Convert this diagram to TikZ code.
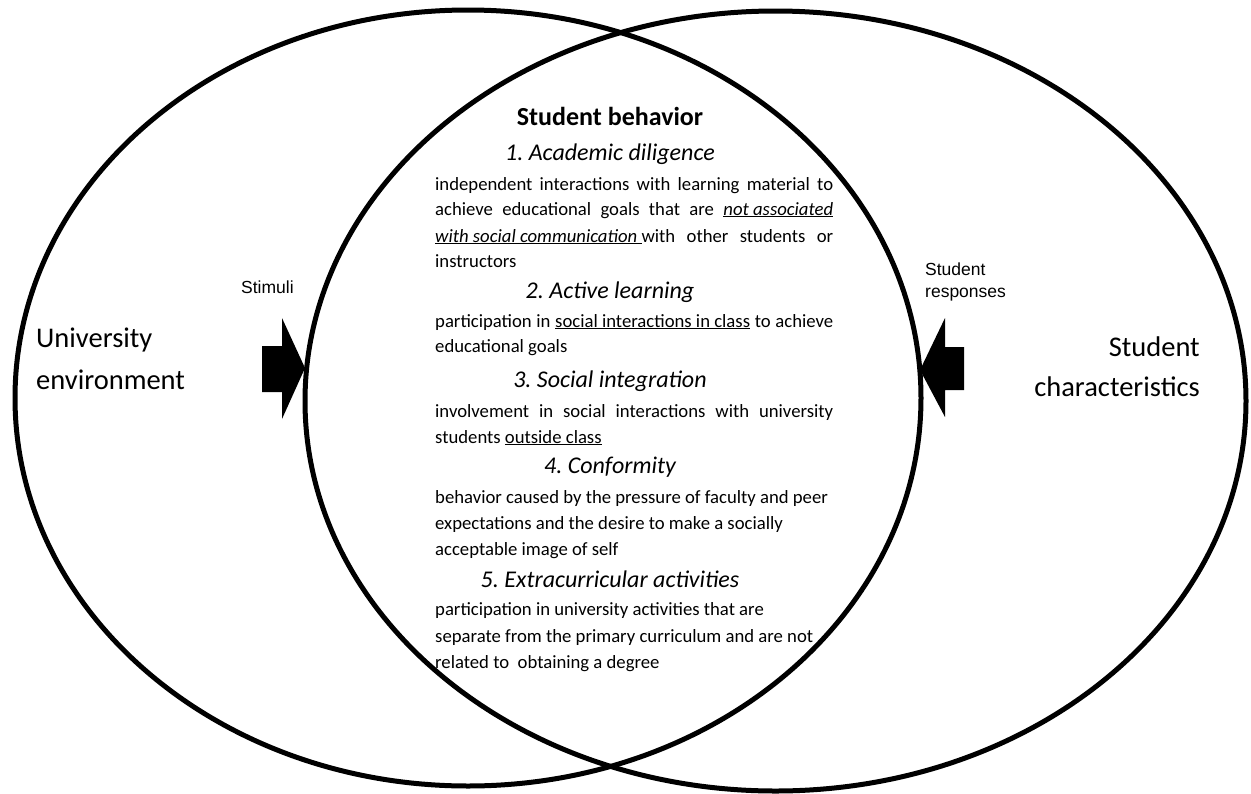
\documentclass[tikz,border=0pt]{standalone}
\usepackage{fontspec}
\setmainfont{Carlito}
\newfontfamily\arialfont{Liberation Sans}
\newcommand\jline[1]{\makebox[398pt][s]{#1}}
\frenchspacing
\begin{document}
\begin{tikzpicture}[x=1pt,y=-1pt,
  ring/.style={line width=5pt},
  blockarrow/.style={fill=black, draw=none},
  body/.style={anchor=base west, inner sep=0pt, font=\fontsize{18.7}{26}\selectfont},
  head/.style={anchor=base, inner sep=0pt, font=\fontsize{24}{28}\selectfont\itshape},
  title/.style={anchor=base, inner sep=0pt, font=\fontsize{26}{30}\selectfont\bfseries},
  big/.style={inner sep=0pt, font=\fontsize{28.5}{34}\selectfont},
  small/.style={anchor=base west, inner sep=0pt, font=\fontsize{17.5}{22}\selectfont\arialfont}]
\useasboundingbox (0,0) rectangle (1251,793);
% two circles
\draw[ring] (468,398) ellipse [x radius=453pt, y radius=388pt];
\draw[ring] (775.5,401) ellipse [x radius=470.5pt, y radius=390pt];
% block arrows
\fill[blockarrow] (262,346) -- (282,346) -- (282,318) -- (305,368) -- (282,419) -- (282,392) -- (262,392) -- cycle;
\fill[blockarrow] (964,347) -- (945,347) -- (945,318) -- (920,370) -- (945,417) -- (945,390) -- (964,390) -- cycle;
% side labels
\node[big, anchor=base west] (ue1) at (36,347) {University};
\node[big, anchor=base west] (ue2) at (36,389) {environment};
\node[big, anchor=base east] (sc1) at (1200,356) {Student};
\node[big, anchor=base east] (sc2) at (1200,396) {characteristics};
\node[small] (stim) at (241,293) {Stimuli};
\node[small] (resp1) at (925,275) {Student};
\node[small] (resp2) at (925,297) {responses};
% central text
\node[title] (tt) at (610,125) {Student behavior};
\node[head] (h1) at (610,160) {1. Academic diligence};
\node[body] (a1) at (435,190) {\jline{independent interactions with learning material to}};
\node[body] (a2) at (435,215) {\jline{achieve educational goals that are \underline{\textit{not associated}}}};
\node[body] (a3) at (435,242) {\jline{\underline{\textit{with social communication\ }}with other students or}};
\node[body] (a4) at (435,267) {instructors};
\node[head] (h2) at (610,298) {2. Active learning};
\node[body] (b1) at (435,327) {\jline{participation in \underline{social interactions in class} to achieve}};
\node[body] (b2) at (435,352) {educational goals};
\node[head] (h3) at (610,387) {3. Social integration};
\node[body] (c1) at (435,417) {\jline{involvement in social interactions with university}};
\node[body] (c2) at (435,443) {students \underline{outside class}};
\node[head] (h4) at (610,473) {4. Conformity};
\node[body] (d1) at (435,503) {behavior caused by the pressure of faculty and peer};
\node[body] (d2) at (435,529) {expectations and the desire to make a socially};
\node[body] (d3) at (435,555) {acceptable image of self};
\node[head] (h5) at (610,587) {5. Extracurricular activities};
\node[body] (e1) at (435,615) {participation in university activities that are};
\node[body] (e2) at (435,642) {separate from the primary curriculum and are not};
\node[body] (e3) at (435,668) {related to\ \ obtaining a degree};
\end{tikzpicture}
\end{document}
